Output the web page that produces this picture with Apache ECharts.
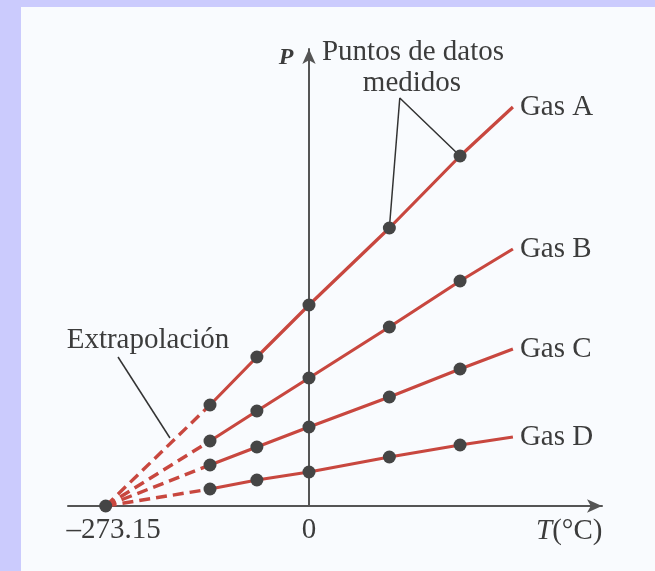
<!DOCTYPE html>
<html>
<head>
<meta charset="utf-8">
<script src="https://cdn.jsdelivr.net/npm/echarts@6/dist/echarts.min.js"></script>
<style>
  html, body { margin: 0; padding: 0; background: #cbcbfd; width: 655px; height: 571px; overflow: hidden; }
  #chart { position: absolute; left: 21px; top: 7px; width: 634px; height: 564px; background: #f9fbfe; }
</style>
</head>
<body>
<div id="chart"></div>
<script>
// ---- data ----
const temps = [-133, -70, 0, 108, 203];          // measured temperatures (°C)
const tEnd = 274;                               // where the solid lines stop
const absZero = -273.15;                        // extrapolated intercept
const gasNames = ['Gas A', 'Gas B', 'Gas C', 'Gas D'];
const gasA = [1.01, 1.49, 2.01, 2.78, 3.50];
const gasB = [0.65, 0.95, 1.28, 1.79, 2.25];
const gasC = [0.41, 0.59, 0.79, 1.09, 1.37];
const gasD = [0.17, 0.26, 0.34, 0.49, 0.61];
const gasEnd = [3.99, 2.57, 1.57, 0.69];       // pressure at line end
const tickValues = [-273.15, 0];
const tickLabels = ['\u2013273.15', '0'];
const pointerMeasured = [[108, 2.78], [122, 4.08], [203, 3.50]];
const pointerExtrap = [[-256.6, 1.49], [-186.8, 0.68]];

const gasData = [gasA, gasB, gasC, gasD];
const RED = '#c8473f';
const DOT = '#454545';
const INK = '#3c3c3c';
const FONT = 'Liberation Serif';
const FS = 29;

const series = [];
gasData.forEach((vals, i) => {
  const pts = temps.map((t, j) => [t, vals[j]]);
  series.push({
    type: 'line', name: gasNames[i] + ' ext', data: [[absZero, 0], pts[0]],
    showSymbol: false, silent: true, z: 3,
    lineStyle: { color: RED, width: 3.4, type: [11, 6] }
  });
  series.push({
    type: 'line', name: gasNames[i], data: pts.concat([[tEnd, gasEnd[i]]]),
    showSymbol: false, silent: true, z: 3,
    lineStyle: { color: RED, width: 3.2 },
    endLabel: { show: true, formatter: '{a}', fontFamily: FONT, fontSize: FS, color: INK, distance: 7 }
  });
  series.push({
    type: 'scatter', data: pts, symbolSize: 13, z: 5, silent: true,
    itemStyle: { color: DOT, opacity: 1 }
  });
});
series.push({
  type: 'scatter', data: [[absZero, 0]], symbolSize: 13, z: 5, silent: true,
  itemStyle: { color: DOT, opacity: 1 }
});
series.push({
  type: 'line', data: pointerMeasured, showSymbol: false, silent: true, z: 4,
  lineStyle: { color: '#333', width: 1.5 }
});
series.push({
  type: 'line', data: pointerExtrap, showSymbol: false, silent: true, z: 4,
  lineStyle: { color: '#333', width: 1.5 }
});

const axisLine = {
  onZero: true, symbol: ['none', 'arrow'], symbolSize: [10, 15],
  lineStyle: { color: '#555', width: 2 }
};

const chart = echarts.init(document.getElementById('chart'));
chart.setOption({
  animation: false,
  grid: { left: 47, right: 53, top: 42, bottom: 65 },
  xAxis: {
    type: 'value', min: -323.8, max: 393.7,
    axisLine: axisLine, axisTick: { show: false }, splitLine: { show: false },
    axisLabel: {
      customValues: tickValues,
      formatter: (v) => { const k = tickValues.indexOf(v); return k === 0 ? '{s|' + tickLabels[k] + '}' : (k > 0 ? tickLabels[k] : ''); },
      fontFamily: FONT, fontSize: FS, color: INK, margin: 10,
      rich: { s: { fontFamily: FONT, fontSize: FS, color: INK, padding: [0, 0, 0, 16] } }
    }
  },
  yAxis: {
    type: 'value', min: 0, max: 4.57,
    axisLine: axisLine, axisTick: { show: false }, splitLine: { show: false },
    axisLabel: { show: false }
  },
  graphic: [
    { type: 'text', x: 265, y: 51, style: { text: 'P', font: 'italic bold 24px "Liberation Serif"', fill: INK, align: 'center', verticalAlign: 'middle' } },
    { type: 'text', x: 392, y: 45, style: { text: 'Puntos de datos', font: FS + 'px "Liberation Serif"', fill: INK, align: 'center', verticalAlign: 'middle' } },
    { type: 'text', x: 391, y: 76, style: { text: 'medidos', font: FS + 'px "Liberation Serif"', fill: INK, align: 'center', verticalAlign: 'middle' } },
    { type: 'text', x: 127, y: 333, style: { text: 'Extrapolación', font: FS + 'px "Liberation Serif"', fill: INK, align: 'center', verticalAlign: 'middle' } },
    { type: 'text', x: 515, y: 524, style: {
        text: '{i|T}{n|(°C)}', align: 'left', verticalAlign: 'middle',
        rich: {
          i: { fontFamily: FONT, fontStyle: 'italic', fontSize: FS, fill: INK, color: INK },
          n: { fontFamily: FONT, fontSize: FS, fill: INK, color: INK }
        }
    } }
  ],
  series: series
});
</script>
</body>
</html>
